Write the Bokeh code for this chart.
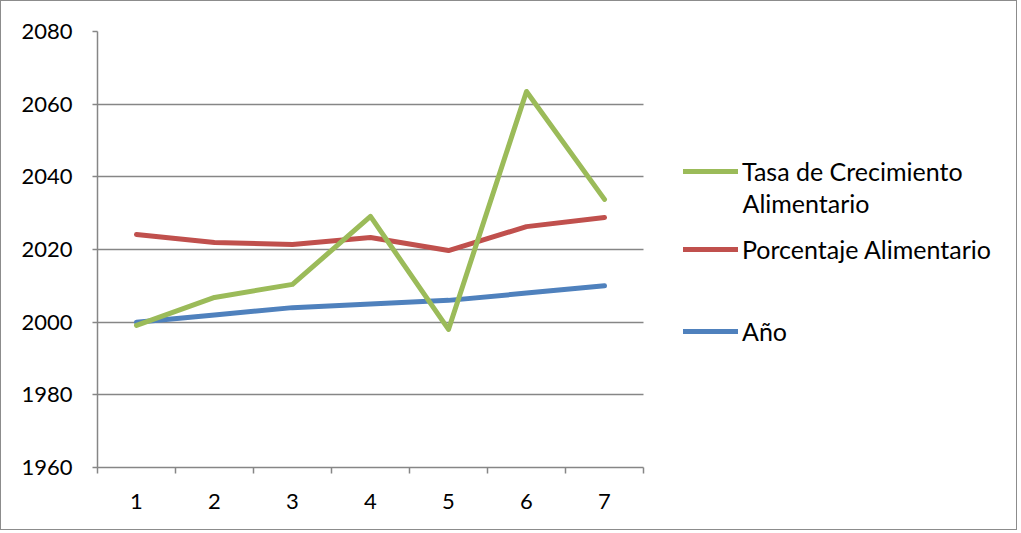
from bokeh.plotting import figure
from bokeh.models import FixedTicker, Legend, LegendItem, Range1d, Label
from bokeh.embed import file_html
from bokeh.resources import INLINE

categories = [1, 2, 3, 4, 5, 6, 7]
anio = [2000, 2002, 2004, 2005, 2006, 2008, 2010]
porcentaje = [2024.1, 2021.9, 2021.4, 2023.3, 2019.7, 2026.3, 2028.8]
tasa = [1999.1, 2006.8, 2010.4, 2029.1, 1998.0, 2063.5, 2033.8]
y_ticks = [1960, 1980, 2000, 2020, 2040, 2060, 2080]
series_names = ["Tasa de Crecimiento", "Alimentario", "Porcentaje Alimentario", "Año"]

FONT = "Lato"
GRAY = "#868686"

W, H = 1017, 530
LEFT, TOP, BOTTOM = 96, 30, 64
PLOT_W = 546  # pixel width of the category area
frame_w = W - LEFT
x_lo = 0.5
x_hi_cat = len(categories) + 0.5
x_end = x_lo + frame_w * (x_hi_cat - x_lo) / PLOT_W

p = figure(width=W, height=H, output_backend="svg", toolbar_location=None,
           x_range=Range1d(x_lo, x_end), y_range=Range1d(1960, 2080),
           min_border_left=LEFT, min_border_right=0, min_border_top=TOP, min_border_bottom=BOTTOM)
p.styles = {"border": "1px solid #8c8c8c"}
p.outline_line_color = None
p.background_fill_color = "white"
p.border_fill_color = "white"

p.xgrid.grid_line_color = None
p.ygrid.grid_line_color = GRAY
p.ygrid.grid_line_width = 1.5
p.ygrid.ticker = FixedTicker(ticks=y_ticks)
p.ygrid.cross_bounds = (x_lo, x_hi_cat)

p.yaxis.ticker = FixedTicker(ticks=y_ticks)
p.yaxis.axis_line_color = GRAY
p.yaxis.axis_line_width = 1.5
p.yaxis.major_tick_line_color = GRAY
p.yaxis.major_tick_line_width = 1.5
p.yaxis.major_tick_out = 5
p.yaxis.major_tick_in = 0
p.yaxis.minor_tick_line_color = None
p.yaxis.major_label_text_font = FONT
p.yaxis.major_label_text_font_size = "22px"
p.yaxis.major_label_text_color = "black"
p.yaxis.major_label_standoff = 20

p.xaxis.ticker = FixedTicker(ticks=categories, minor_ticks=[c - 0.5 for c in categories] + [x_hi_cat])
p.xaxis.bounds = (x_lo, x_hi_cat)
p.xaxis.axis_line_color = GRAY
p.xaxis.axis_line_width = 1.5
p.xaxis.major_tick_line_color = None
p.xaxis.minor_tick_line_color = GRAY
p.xaxis.minor_tick_line_width = 1.5
p.xaxis.minor_tick_out = 6
p.xaxis.minor_tick_in = 0
p.xaxis.major_label_text_font = FONT
p.xaxis.major_label_text_font_size = "22px"
p.xaxis.major_label_text_color = "black"
p.xaxis.major_label_standoff = 20

r_anio = p.line(categories, anio, line_color="#4F81BD", line_width=5, line_cap="round", line_join="round")
r_por = p.line(categories, porcentaje, line_color="#C0504D", line_width=5, line_cap="round", line_join="round")
r_tasa = p.line(categories, tasa, line_color="#9BBB59", line_width=5, line_cap="round", line_join="round")

LEG_FS = "25px"
def make_legend(label, rend, vy):
    lg = Legend(items=[LegendItem(label=label, renderers=[rend])],
                location=(586, vy), border_line_color=None, background_fill_alpha=0,
                glyph_width=55, glyph_height=20, label_text_font=FONT,
                label_text_font_size=LEG_FS, label_text_color="black", label_standoff=4,
                spacing=0, padding=0, margin=0, label_height=20)
    p.add_layout(lg, "center")

make_legend(series_names[0], r_tasa, 281)
make_legend(series_names[2], r_por, 203)
make_legend(series_names[3], r_anio, 121)
p.add_layout(Label(x=645, y=265, x_units="screen", y_units="screen", text=series_names[1],
                   text_font=FONT, text_font_size=LEG_FS, text_baseline="middle", text_color="black"))

open("out.html", "w").write(file_html(p, INLINE))
